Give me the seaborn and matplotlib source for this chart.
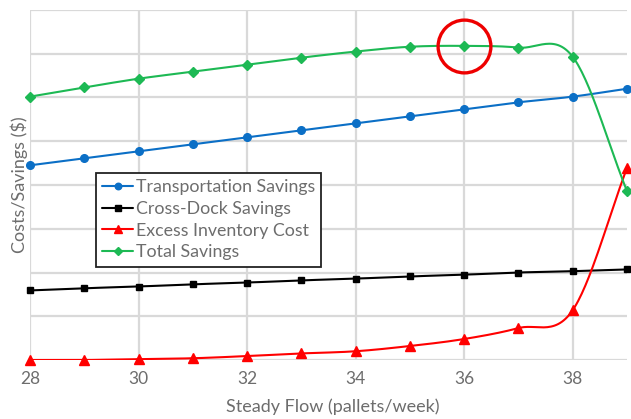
import numpy as np
import matplotlib
matplotlib.use("Agg")
import matplotlib.pyplot as plt
from matplotlib.lines import Line2D
import seaborn as sns

# Steady flow (pallets/week)
flow = [28, 29, 30, 31, 32, 33, 34, 35, 36, 37, 38, 39]

# Costs / savings (relative $ units)
transportation = [4.45, 4.61, 4.77, 4.93, 5.09, 5.25, 5.41, 5.57, 5.73, 5.89, 6.02, 6.20]
cross_dock = [1.59, 1.64, 1.68, 1.73, 1.77, 1.82, 1.86, 1.91, 1.95, 2.00, 2.03, 2.07]
excess_inventory = [0.00, 0.00, 0.02, 0.04, 0.09, 0.15, 0.20, 0.32, 0.48, 0.73, 1.14, 4.39]
total_savings = [6.02, 6.23, 6.43, 6.59, 6.75, 6.91, 7.05, 7.16, 7.18, 7.14, 6.93, 3.86]

x_ticks = [28, 30, 32, 34, 36, 38]
highlight_flow = 36

BLUE = "#0B6FC6"
BLACK = "#000000"
RED = "#FF0000"
GREEN = "#1DB954"
GREY_TEXT = "#6d6d6d"
GRID = "#d9d9d9"


def smooth(xs, ys, n=30):
    """Catmull-Rom curve through the points (spreadsheet-style smoothed line)."""
    xs = np.asarray(xs, float)
    ys = np.asarray(ys, float)
    px = np.concatenate([[2 * xs[0] - xs[1]], xs, [2 * xs[-1] - xs[-2]]])
    py = np.concatenate([[2 * ys[0] - ys[1]], ys, [2 * ys[-1] - ys[-2]]])
    out_x, out_y = [], []
    t = np.linspace(0, 1, n, endpoint=False)
    h00 = 2 * t**3 - 3 * t**2 + 1
    h10 = t**3 - 2 * t**2 + t
    h01 = -2 * t**3 + 3 * t**2
    h11 = t**3 - t**2
    for i in range(1, len(px) - 2):
        mx0 = (px[i + 1] - px[i - 1]) / 2
        mx1 = (px[i + 2] - px[i]) / 2
        my0 = (py[i + 1] - py[i - 1]) / 2
        my1 = (py[i + 2] - py[i]) / 2
        out_x.append(h00 * px[i] + h10 * mx0 + h01 * px[i + 1] + h11 * mx1)
        out_y.append(h00 * py[i] + h10 * my0 + h01 * py[i + 1] + h11 * my1)
    out_x.append([xs[-1]])
    out_y.append([ys[-1]])
    return np.concatenate(out_x), np.concatenate(out_y)


sns.set_theme(style="whitegrid")
plt.rcParams["font.family"] = ["Lato", "DejaVu Sans"]

fig = plt.figure(figsize=(6.31, 4.19), dpi=100)
ax = fig.add_axes([30 / 631, (419 - 360) / 419, 597 / 631, 350 / 419])
ax.set_facecolor("white")

series = [
    ("Transportation Savings", transportation, BLUE, "o", 5.5),
    ("Cross-Dock Savings", cross_dock, BLACK, "s", 5.0),
    ("Excess Inventory Cost", excess_inventory, RED, "^", 7.5),
    ("Total Savings", total_savings, GREEN, "D", 5.0),
]

handles = []
for label, vals, color, marker, ms in series:
    sx, sy = smooth(flow, vals)
    sns.lineplot(x=sx, y=sy, ax=ax, color=color, linewidth=1.5, sort=False,
                 estimator=None, legend=False, zorder=3)
    ax.plot(flow, vals, linestyle="none", marker=marker, markersize=ms,
            color=color, markeredgecolor=color, zorder=4, clip_on=False)
    handles.append(Line2D([], [], color=color, linewidth=1.5, marker=marker,
                          markersize=ms * 0.85, markeredgecolor=color, label=label))

# circle around the peak of total savings
peak = total_savings[flow.index(highlight_flow)]
ax.plot([highlight_flow], [peak], marker="o", markersize=38, fillstyle="none",
        markeredgecolor="#EE0000", markeredgewidth=2.4, linestyle="none",
        zorder=6, clip_on=False)

ax.set_xlim(28, 39)
ax.set_ylim(0, 8)
ax.set_xticks(x_ticks)
ax.set_yticks(range(0, 9))
ax.set_yticklabels([])
ax.tick_params(axis="x", colors=GREY_TEXT, labelsize=12.5, length=0, pad=8)
ax.tick_params(axis="y", length=0)
ax.grid(True, color=GRID, linewidth=1.6)
for s in ax.spines.values():
    s.set_visible(False)

ax.set_xlabel("Steady Flow (pallets/week)", color=GREY_TEXT, fontsize=13)
ax.set_ylabel("Costs/Savings ($)", color=GREY_TEXT, fontsize=13)
ax.xaxis.set_label_coords((333 - 30) / 597, -(398 - 360) / 350)
ax.yaxis.set_label_coords(-(30 - 28) / 597, (360 - 185) / 350)

leg = ax.legend(handles=handles, loc="upper left",
                bbox_to_anchor=(66 / 597, (360 - 173) / 350), borderaxespad=0,
                frameon=True, fancybox=False, framealpha=1, edgecolor="#222222",
                fontsize=12.8, handlelength=1.75, handletextpad=0.15,
                labelspacing=0.32, borderpad=0.35)
leg.get_frame().set_linewidth(1.3)
for t in leg.get_texts():
    t.set_color(GREY_TEXT)
leg.set_zorder(5)

fig.savefig("out.png", dpi=100, facecolor="white")
